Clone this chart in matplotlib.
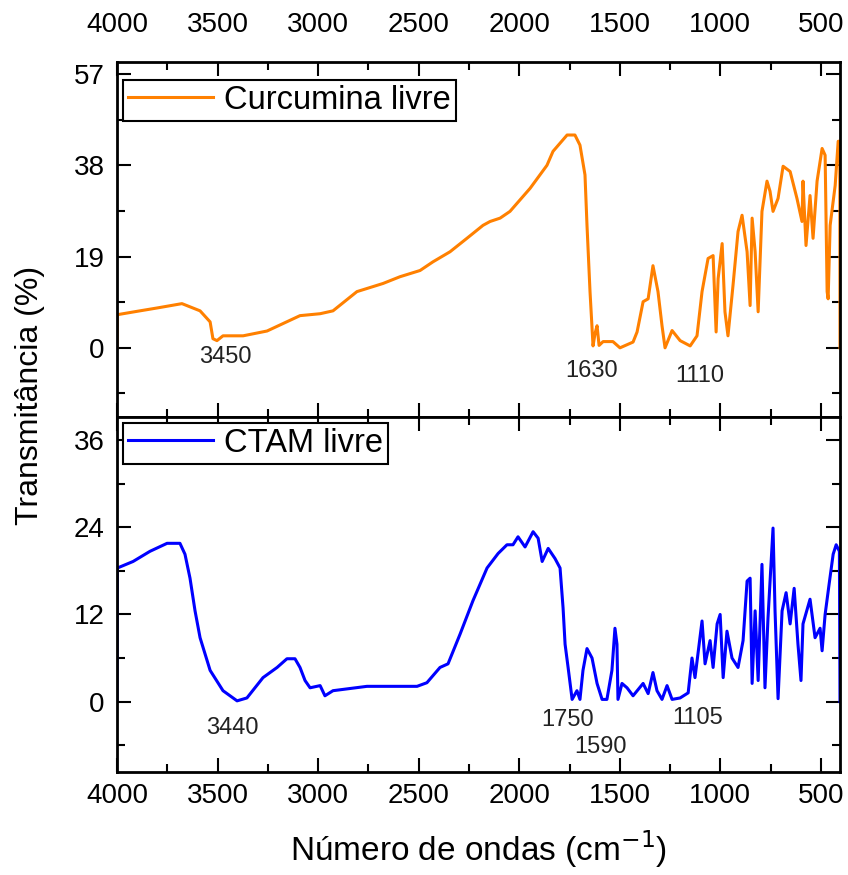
# FTIR spectra: free curcumin and free CTAM

import matplotlib.pyplot as plt
from matplotlib.ticker import MultipleLocator

plt.rcParams['font.family'] = ['Liberation Sans', 'DejaVu Sans']

# wavenumber (cm-1) and transmittance (%)
curc_x = [4000, 3998, 3900, 3800, 3677, 3587, 3537, 3523, 3503, 3473, 3373, 3254, 3090, 2990,
          2926, 2807, 2677, 2593, 2493, 2429, 2344, 2260, 2180, 2145, 2095, 2046, 1946, 1862,
          1832, 1762, 1723, 1698, 1673, 1663, 1648, 1633, 1623, 1613, 1603, 1583, 1534, 1499,
          1434, 1414, 1384, 1359, 1335, 1310, 1290, 1275, 1240, 1200, 1150, 1116, 1091, 1061,
          1036, 1021, 1011, 991, 977, 962, 937, 912, 892, 867, 852, 842, 827, 812, 793, 768,
          753, 738, 713, 688, 653, 619, 594, 589, 574, 554, 539, 519, 494, 479, 469, 464, 454,
          429, 414, 406, 405]
curc_y = [0, 6.9, 7.6, 8.3, 9.2, 7.7, 5.4, 1.9, 1.5, 2.5, 2.5, 3.5, 6.7, 7.1,
          7.7, 11.7, 13.4, 14.8, 16.1, 17.9, 20.0, 22.8, 25.5, 26.3, 27.0, 28.4, 33.2, 38.0,
          40.9, 44.3, 44.3, 42.2, 36.0, 25.5, 11.7, 0.4, 3.0, 4.6, 0.5, 1.3, 1.3, 0,
          1.2, 3.3, 9.6, 10.2, 17.1, 11.7, 4.6, 0, 3.6, 1.5, 0.4, 2.5, 11.7, 18.6,
          19.2, 3.3, 14.4, 21.7, 7.5, 2.5, 13.0, 24.2, 27.6, 20.0, 8.8, 27.0, 20.0, 7.5, 28.4, 34.7,
          32.6, 28.4, 31.1, 37.8, 36.7, 31.1, 26.3, 34.7, 21.3, 31.7, 22.8, 34.7, 41.5, 40.1, 11.7, 10.2, 25.5,
          33.8, 43.0, 43.0, 0]

ctam_x = [4000, 3998, 3920, 3836, 3751, 3687, 3662, 3637, 3612, 3587, 3537, 3473, 3403, 3354,
          3274, 3204, 3155, 3115, 3090, 3065, 3040, 2990, 2966, 2926, 2757, 2508, 2459, 2394,
          2354, 2294, 2230, 2160, 2105, 2061, 2031, 2006, 1971, 1931, 1906, 1886, 1856, 1822,
          1797, 1782, 1772, 1757, 1737, 1713, 1698, 1683, 1663, 1638, 1613, 1588, 1564, 1539,
          1524, 1514, 1509, 1489, 1464, 1434, 1384, 1359, 1335, 1315, 1290, 1265, 1240, 1200,
          1160, 1141, 1126, 1091, 1076, 1051, 1036, 1016, 1001, 986, 967, 942, 912, 887, 867,
          852, 842, 827, 812, 793, 778, 763, 738, 728, 713, 693, 673, 653, 633, 614, 599, 589,
          554, 529, 504, 494, 479, 459, 439, 424, 408, 405]
ctam_y = [0.3, 18.4, 19.3, 20.7, 21.8, 21.8, 20.3, 17.0, 12.5, 8.8, 4.3, 1.5, 0.1, 0.5,
          3.3, 4.7, 5.9, 5.9, 4.7, 2.9, 1.9, 2.2, 0.8, 1.5, 2.1, 2.1, 2.6, 4.7,
          5.2, 9.3, 13.9, 18.4, 20.4, 21.6, 21.6, 22.7, 21.3, 23.4, 22.5, 19.3, 21.1, 19.7,
          18.4, 12.9, 7.9, 4.7, 0.3, 1.5, 0.3, 4.3, 7.3, 6.0, 2.5, 0.3, 0.3, 4.3,
          10.1, 7.9, 0.3, 2.5, 1.9, 0.8, 2.5, 1.1, 4.0, 1.5, 0.3, 2.2, 0.3, 0.5,
          1.2, 6.0, 3.3, 11.1, 5.2, 8.4, 4.7, 10.7, 12.0, 3.3, 9.7, 6.0, 4.7, 8.4, 16.6,
          17.0, 2.5, 12.5, 2.9, 18.9, 1.9, 11.5, 23.9, 12.5, 0.4, 12.5, 15.0, 10.7, 15.6, 7.9, 2.9, 10.7,
          14.1, 8.8, 10.1, 7.0, 12.0, 16.2, 20.3, 21.6, 20.7, 0]

curc_peaks = [("3450", 3463, -1.9), ("1630", 1638, -4.8), ("1110", 1101, -5.8)]
ctam_peaks = [("3440", 3428, -3.6), ("1750", 1762, -2.6), ("1590", 1598, -6.2), ("1105", 1111, -2.2)]

fig = plt.figure(figsize=(8.48, 8.75), dpi=100)
ax1 = fig.add_axes([117 / 848, 458 / 875, 723 / 848, 355 / 875])
ax2 = fig.add_axes([117 / 848, 103 / 875, 723 / 848, 355 / 875])

ax1.plot(curc_x, curc_y, color="#ff8000", lw=2.2, label="Curcumina livre")
ax2.plot(ctam_x, ctam_y, color="#0000ff", lw=2.2, label="CTAM livre")

for ax in (ax1, ax2):
    ax.set_xlim(4000, 405)
    ax.xaxis.set_major_locator(MultipleLocator(500))
    ax.xaxis.set_minor_locator(MultipleLocator(250))
    ax.tick_params(which="both", direction="in", top=True, right=True, width=1.5, labelsize=20)
    ax.tick_params(which="major", length=10)
    ax.tick_params(which="minor", length=5.5)
    for s in ax.spines.values():
        s.set_linewidth(2)

ax1.set_ylim(-14.4, 59.5)
ax1.set_yticks([0, 19, 38, 57])
ax1.yaxis.set_minor_locator(MultipleLocator(9.5))
ax1.tick_params(axis="x", labeltop=True, labelbottom=False, pad=17)
ax1.tick_params(axis="y", pad=9)

ax2.set_ylim(-9.7, 39.2)
ax2.set_yticks([0, 12, 24, 36])
ax2.yaxis.set_minor_locator(MultipleLocator(6))
ax2.tick_params(axis="x", pad=8)
ax2.tick_params(axis="y", pad=9)

for txt, x, y in curc_peaks:
    ax1.text(x, y, txt, fontsize=17, ha="center", va="center", color="#222222")
for txt, x, y in ctam_peaks:
    ax2.text(x, y, txt, fontsize=17, ha="center", va="center", color="#222222")

for ax, top in ((ax1, 1 - 18 / 355), (ax2, 1 - 6 / 355)):
    leg = ax.legend(loc="upper left", bbox_to_anchor=(6 / 723, top), borderaxespad=0,
                    fontsize=23.5, handlelength=2.6, handletextpad=0.35, borderpad=0.15,
                    fancybox=False, framealpha=1)
    leg.get_frame().set_edgecolor("black")
    leg.get_frame().set_linewidth(1.5)

ax2.set_xlabel("Número de ondas (cm$^{-1}$)", fontsize=24, labelpad=14)
fig.text(30 / 848, 1 - 395 / 875, "Transmitância (%)", fontsize=23, rotation=90,
         ha="center", va="center")

plt.savefig("out.png", dpi=100)
